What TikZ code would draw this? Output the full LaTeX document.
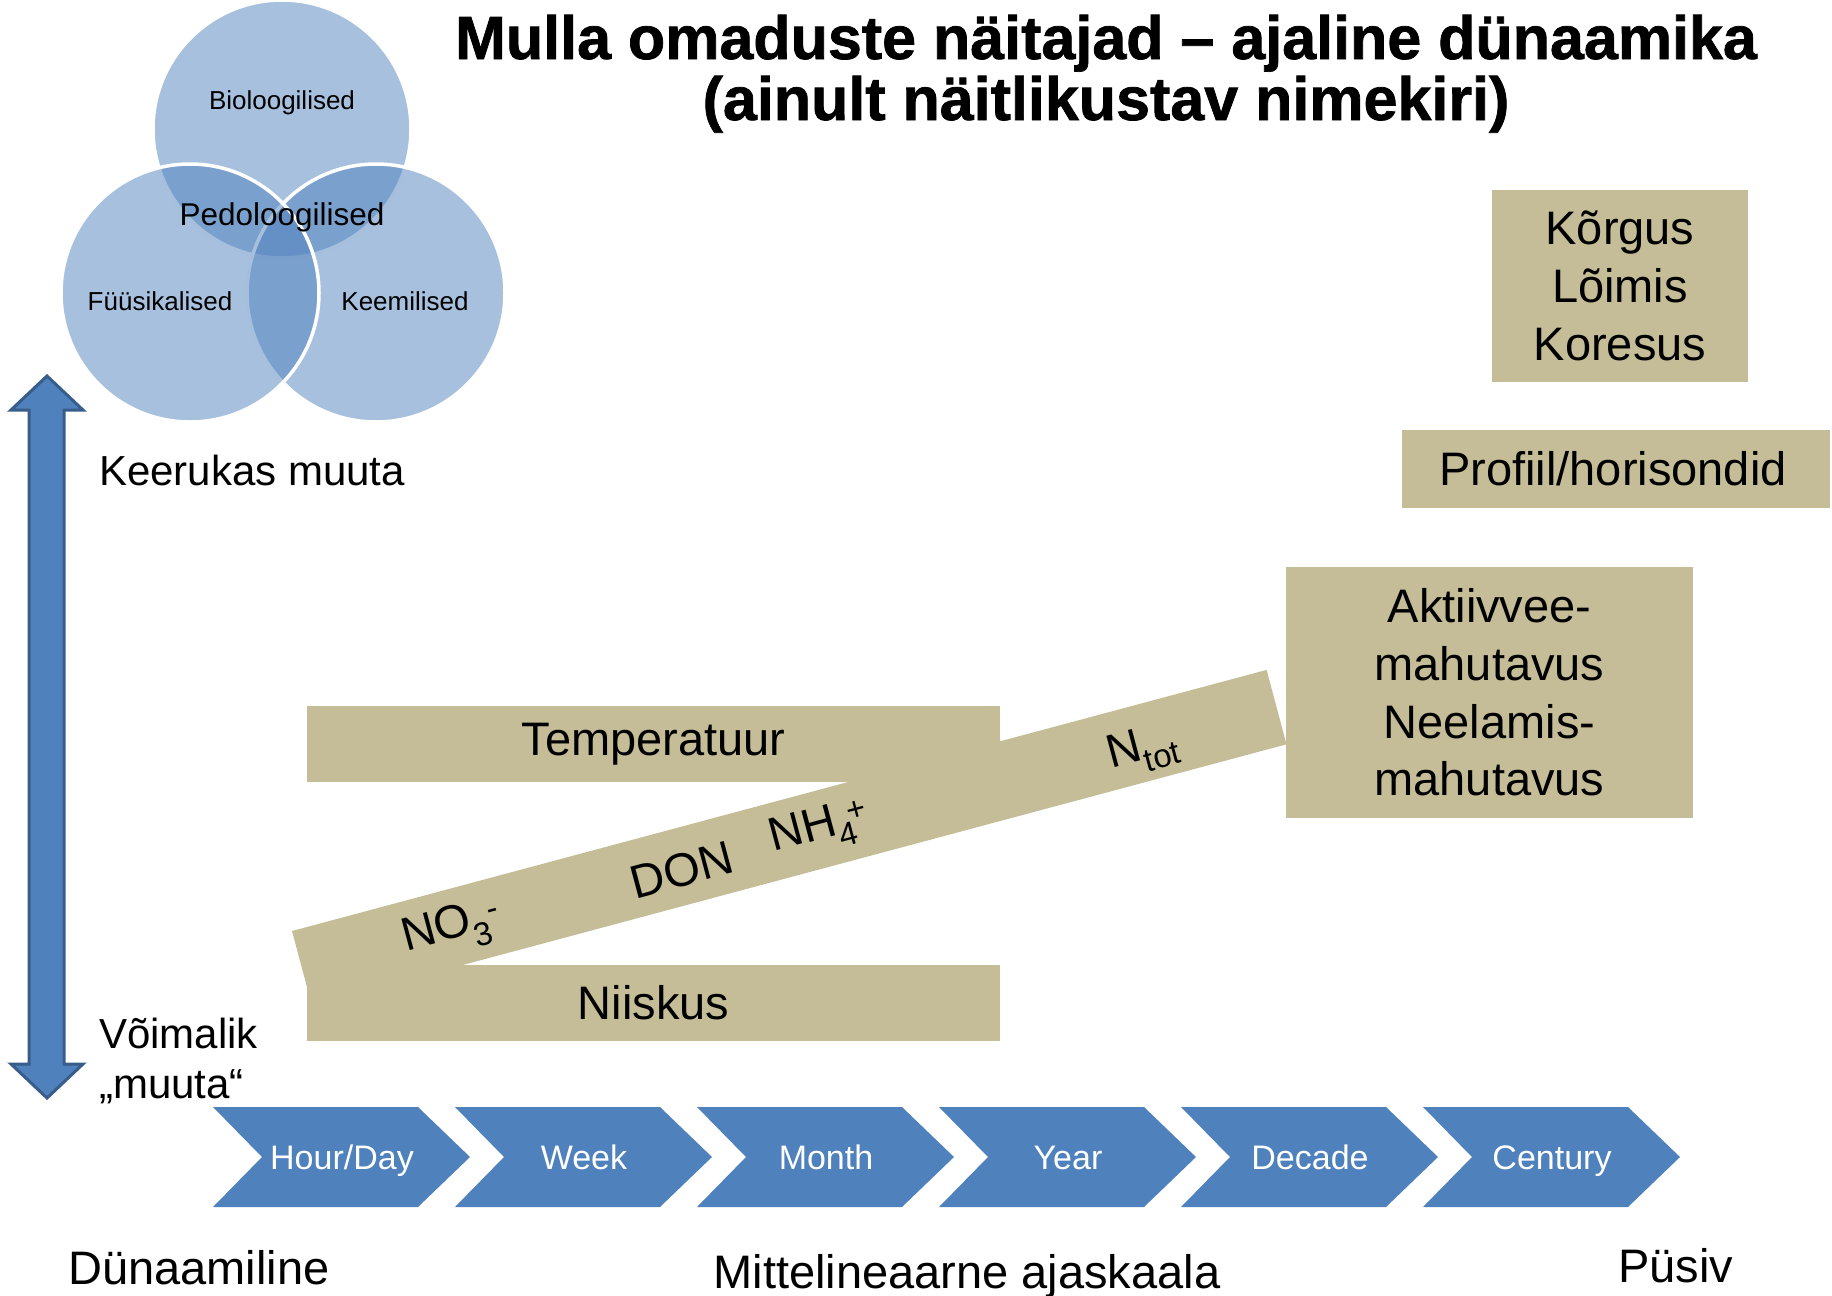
\documentclass[tikz,border=0pt]{standalone}
\usepackage{fontspec}
\setmainfont{Liberation Sans}
\newfontfamily\heavyfont[FakeBold=1.2]{Liberation Sans Bold}
\usetikzlibrary{shapes.geometric}
\definecolor{acc}{HTML}{4F81BD}
\definecolor{accdark}{HTML}{385D8A}
\definecolor{tanc}{HTML}{C4BD97}
\newcommand\chev[3]{%
  \fill[acc] (#1,1107) -- ++(205,0) -- ++(52,50) -- ++(-52,50) -- ++(-205,0) -- ++(49,-50) -- cycle;
  \node[chevtext, anchor=base] (#2) at (#1+129,1169) {#3};}
\begin{document}
\begin{tikzpicture}[x=1pt,y=-1pt,
  venn/.style={circle, minimum size=258pt, inner sep=0pt, fill=acc, fill opacity=0.5, draw=white, draw opacity=1, line width=3.5pt},
  vsmall/.style={font=\fontsize{26}{30}\selectfont, inner sep=0pt, text=black},
  tanbox/.style={fill=tanc, inner sep=0pt, align=center, font=\fontsize{47}{57.7}\selectfont},
  bigtext/.style={font=\fontsize{47}{57}\selectfont, inner sep=0pt},
  sidetext/.style={font=\fontsize{42}{50}\selectfont, inner sep=0pt},
  chevtext/.style={font=\fontsize{34}{40}\selectfont, text=white, inner sep=0pt},
  bandtext/.style={font=\fontsize{47}{57}\selectfont, inner sep=0pt, rotate=15},
  titletext/.style={font=\heavyfont\fontsize{61}{64}\selectfont, inner sep=0pt}
]
\useasboundingbox (0,0) rectangle (1832,1296);

% Title
\node[titletext, anchor=base] (t1) at (1106,59) {Mulla omaduste näitajad – ajaline dünaamika};
\node[titletext, anchor=base] (t2) at (1106,120) {(ainult näitlikustav nimekiri)};

% Venn
\node[venn] (bio) at (282,129) {};
\node[venn] (kee) at (376,293) {};
\node[venn] (fyy) at (190,293) {};
\node[vsmall] (lbio) at (282,103) {Bioloogilised};
\node[vsmall] (lfyy) at (160,301) {Füüsikalised};
\node[vsmall] (lkee) at (405,301) {Keemilised};
\node[vsmall, font=\fontsize{31.5}{36}\selectfont] (lped) at (282,217) {Pedoloogilised};

% vertical double arrow
\filldraw[fill=acc, draw=accdark, line width=3pt, line join=miter]
  (47,376) -- (83,410) -- (64,410) -- (64,1064) -- (83,1064) -- (47,1098)
  -- (11,1064) -- (29,1064) -- (29,410) -- (11,410) -- cycle;
\node[sidetext, anchor=base west] (keer) at (99,485) {Keerukas muuta};
\node[sidetext, anchor=base west] (voim) at (99,1048) {Võimalik};
\node[sidetext, anchor=base west] (muuta) at (99,1098) {„muuta“};

% tan boxes
\node[tanbox, minimum width=256pt, minimum height=192pt] (korg) at (1620,286) {Kõrgus\\Lõimis\\Koresus};
\node[tanbox, minimum width=428pt, minimum height=78pt] (prof) at (1616,469) {};
\node[bigtext] (proft) at (1613,469) {Profiil/horisondid};
\node[tanbox, minimum width=407pt, minimum height=251pt] (akt) at (1489.5,692.5) {Aktiivvee-\\mahutavus\\Neelamis-\\mahutavus};

% slanted band
\fill[tanc] (292,931) -- (1266.6,669.9) -- (1286.5,744.3) -- (311.9,1005.4) -- cycle;
\node[tanbox, minimum width=693pt, minimum height=76pt] (temp) at (653.5,744) {Temperatuur};
\node[tanbox, minimum width=693pt, minimum height=76pt] (niis) at (653.5,1003) {Niiskus};
\node[bandtext] (no3) at (452,930) {NO\textsubscript{3}\kern-0.02em\textsuperscript{-}};
\node[bandtext] (don) at (682,870) {DON};
\node[bandtext] (nh4) at (820,830) {NH\textsubscript{4}\kern-0.12em\textsuperscript{+}};
\node[bandtext] (ntot) at (1143,750) {N\textsubscript{tot}};

% chevrons
\chev{213}{c1}{Hour/Day}
\chev{455}{c2}{Week}
\chev{697}{c3}{Month}
\chev{939}{c4}{Year}
\chev{1181}{c5}{Decade}
\chev{1423}{c6}{Century}

% bottom labels
\node[bigtext, anchor=base west] (dyn) at (68,1284) {Dünaamiline};
\node[bigtext, anchor=base] (mitt) at (967,1288) {Mittelineaarne ajaskaala};
\node[bigtext, anchor=base west] (pys) at (1618,1282) {Püsiv};
\end{tikzpicture}
\end{document}
